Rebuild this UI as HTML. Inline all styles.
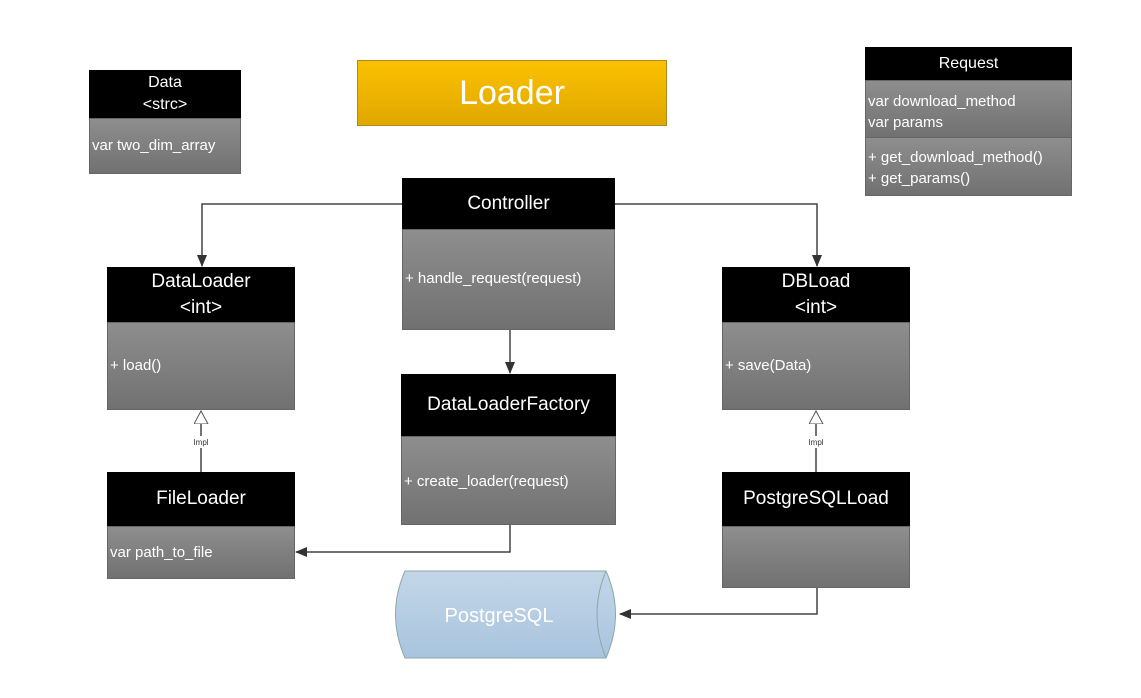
<!DOCTYPE html>
<html><head><style>
body{margin:0;width:1141px;height:698px;background:#fff;position:relative;overflow:hidden;font-family:"Liberation Sans",sans-serif;}
.b{position:absolute;box-sizing:border-box;}
.h{background:#000;color:#fff;text-align:center;font-size:19px;display:flex;flex-direction:column;justify-content:center;line-height:26px;}
.g{background:linear-gradient(#8e8e8e,#717171);border:1px solid #666;color:#fff;font-size:15px;}
svg{position:absolute;left:0;top:0;}
</style></head><body>
<svg width="1141" height="698">
<defs>
<marker id="a" markerWidth="12" markerHeight="10" refX="11" refY="5" orient="auto" markerUnits="userSpaceOnUse"><path d="M0,0 L12,5 L0,10 Z" fill="#333"/></marker>
<marker id="t" markerWidth="14" markerHeight="22" refX="13" refY="7" orient="auto" markerUnits="userSpaceOnUse"><path d="M0,0 L13,7 L0,14 Z" fill="#fff" stroke="#555"/></marker>
</defs>
<g stroke="#444" stroke-width="1.5" fill="none">
<path d="M402,204 H202 V266" marker-end="url(#a)"/>
<path d="M615,204 H817 V266" marker-end="url(#a)"/>
<path d="M510,330 V373" marker-end="url(#a)"/>
<path d="M510,525 V552 H296" marker-end="url(#a)"/>
<path d="M817,588 V614 H620" marker-end="url(#a)"/>
<path d="M201,472 V411" marker-end="url(#t)"/>
<path d="M816,472 V411" marker-end="url(#t)"/>
</g>
<rect x="190" y="436" width="22" height="12" fill="#fff"/>
<rect x="805" y="436" width="22" height="12" fill="#fff"/>
<text x="201" y="445" font-size="8" text-anchor="middle" font-family="Liberation Sans" fill="#333">Impl</text>
<text x="816" y="445" font-size="8" text-anchor="middle" font-family="Liberation Sans" fill="#333">Impl</text>
<defs><linearGradient id="c" x1="0" y1="0" x2="0" y2="1"><stop offset="0" stop-color="#c3d6e8"/><stop offset="1" stop-color="#a9c4de"/></linearGradient></defs>
<path d="M405,571 H606 Q625,614 606,658 H405 Q386,614 405,571 Z" fill="url(#c)" stroke="#8aa" stroke-width="1"/>
<path d="M606,571 Q588,614 606,658" fill="none" stroke="#8aa"/>
<text x="499" y="622" font-size="20" text-anchor="middle" font-family="Liberation Sans" fill="#fff">PostgreSQL</text>
</svg>

<div class="b h" style="left:89px;top:70px;width:152px;height:48px;font-size:16px;line-height:22px">Data<span>&lt;strc&gt;</span></div>
<div class="b g" style="left:89px;top:118px;width:152px;height:56px;padding:18px 0 0 2px">var two_dim_array</div>

<div class="b" style="left:357px;top:60px;width:310px;height:66px;background:linear-gradient(#fbc100,#e0a800);border:1px solid #b08a20;color:#fff;font-size:34px;text-align:center;line-height:64px">Loader</div>

<div class="b h" style="left:865px;top:47px;width:207px;height:33px;font-size:16px">Request</div>
<div class="b g" style="left:865px;top:80px;width:207px;height:58px;padding:10px 0 0 2px;line-height:21px">var download_method<br>var params</div>
<div class="b g" style="left:865px;top:138px;width:207px;height:58px;padding:9px 0 0 2px;line-height:21px;border-top:none">+ get_download_method()<br>+ get_params()</div>

<div class="b h" style="left:402px;top:178px;width:213px;height:51px">Controller</div>
<div class="b g" style="left:402px;top:229px;width:213px;height:101px;padding:40px 0 0 2px">+ handle_request(request)</div>

<div class="b h" style="left:107px;top:267px;width:188px;height:55px">DataLoader<span>&lt;int&gt;</span></div>
<div class="b g" style="left:107px;top:322px;width:188px;height:88px;padding:34px 0 0 2px">+ load()</div>

<div class="b h" style="left:722px;top:267px;width:188px;height:55px">DBLoad<span>&lt;int&gt;</span></div>
<div class="b g" style="left:722px;top:322px;width:188px;height:88px;padding:34px 0 0 2px">+ save(Data)</div>

<div class="b h" style="left:401px;top:374px;width:215px;height:62px">DataLoaderFactory</div>
<div class="b g" style="left:401px;top:436px;width:215px;height:89px;padding:36px 0 0 2px">+ create_loader(request)</div>

<div class="b h" style="left:107px;top:472px;width:188px;height:54px">FileLoader</div>
<div class="b g" style="left:107px;top:526px;width:188px;height:53px;padding:17px 0 0 2px">var path_to_file</div>

<div class="b h" style="left:722px;top:472px;width:188px;height:54px">PostgreSQLLoad</div>
<div class="b g" style="left:722px;top:526px;width:188px;height:62px"></div>
</body></html>
